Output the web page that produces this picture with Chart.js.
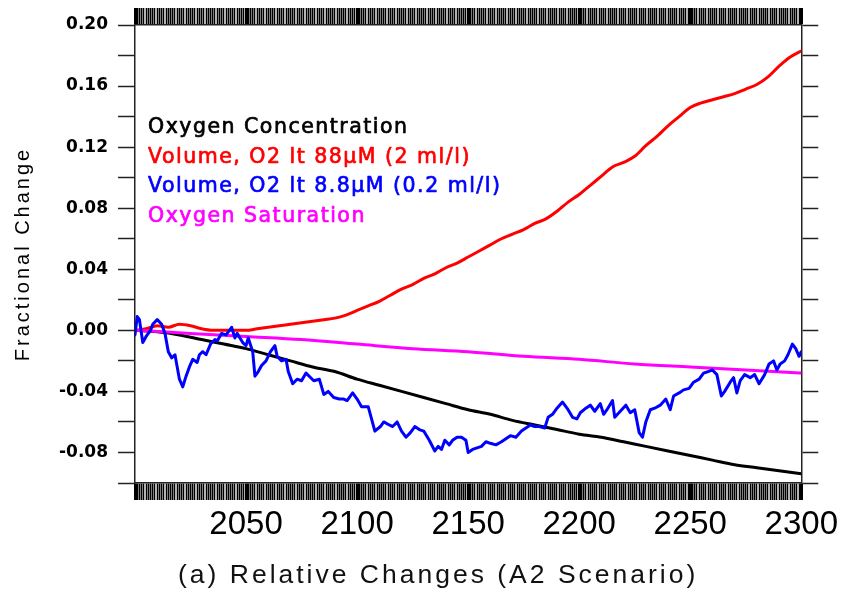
<!DOCTYPE html>
<html>
<head>
<meta charset="utf-8">
<style>
  html, body { margin: 0; padding: 0; background: #fff; }
  #wrap { width: 843px; height: 596px; position: relative; }
</style>
<script src="https://cdn.jsdelivr.net/npm/chart.js@4/dist/chart.umd.min.js"></script>
</head>
<body>
<div id="wrap"><canvas id="c"></canvas></div>
<script>
// Oxygen concentration (fractional change relative to 2000)
const concYears = [2000, 2010, 2020, 2030, 2040, 2050, 2060, 2070, 2080, 2090, 2100,
  2110, 2120, 2130, 2140, 2150, 2160, 2170, 2180, 2190, 2200,
  2210, 2220, 2230, 2240, 2250, 2260, 2270, 2280, 2290, 2300];
const concValues = [0.000, -0.001, -0.003, -0.006, -0.009, -0.012, -0.016, -0.020, -0.024, -0.027, -0.032,
  -0.036, -0.040, -0.044, -0.048, -0.052, -0.055, -0.059, -0.062, -0.065, -0.068,
  -0.070, -0.073, -0.076, -0.079, -0.082, -0.085, -0.088, -0.090, -0.092, -0.094];

// Volume with O2 below 88 uM (2 ml/l)
const vol88Years = [2000, 2005, 2010, 2015, 2020, 2025, 2030, 2035, 2040, 2045, 2050,
  2055, 2060, 2065, 2070, 2075, 2080, 2085, 2090, 2095, 2100,
  2105, 2110, 2115, 2120, 2125, 2130, 2135, 2140, 2145, 2150,
  2155, 2160, 2165, 2170, 2175, 2180, 2185, 2190, 2195, 2200,
  2205, 2210, 2215, 2220, 2225, 2230, 2235, 2240, 2245, 2250,
  2255, 2260, 2265, 2270, 2275, 2280, 2285, 2290, 2295, 2300];
const vol88Values = [0.000, 0.001, 0.003, 0.002, 0.004, 0.003, 0.001, 0.000, 0.000, 0.000, 0.000,
  0.001, 0.002, 0.003, 0.004, 0.005, 0.006, 0.007, 0.008, 0.010, 0.013,
  0.016, 0.019, 0.023, 0.027, 0.030, 0.034, 0.037, 0.041, 0.044, 0.048,
  0.052, 0.056, 0.060, 0.063, 0.066, 0.070, 0.073, 0.078, 0.084, 0.089,
  0.095, 0.101, 0.107, 0.110, 0.114, 0.121, 0.127, 0.134, 0.140, 0.146,
  0.149, 0.151, 0.153, 0.155, 0.158, 0.161, 0.166, 0.173, 0.179, 0.183];

// Volume with O2 below 8.8 uM (0.2 ml/l)
const vol8Years = [2000, 2001, 2002, 2003.5, 2005, 2007, 2008, 2010, 2012, 2013.5,
  2015, 2016.5, 2018, 2019, 2020, 2021.5, 2023, 2024.5, 2026, 2028,
  2029, 2030.5, 2032, 2034, 2036, 2037, 2039, 2041, 2043.5, 2045,
  2046, 2048.5, 2050, 2051, 2053, 2054, 2055.5, 2057, 2059, 2061,
  2063, 2064, 2066, 2068, 2069, 2071, 2073, 2075, 2077, 2080.5,
  2083, 2085, 2087, 2089.5, 2092, 2094, 2095.5, 2098, 2100, 2102,
  2105, 2106.5, 2108, 2110.5, 2112, 2114.5, 2116, 2118, 2120, 2122,
  2124, 2126, 2128, 2130, 2132.5, 2135, 2136.5, 2138, 2139.5, 2141.5,
  2143, 2145, 2147, 2149, 2150, 2152, 2154, 2156, 2158, 2160,
  2162.5, 2165, 2167, 2169, 2171.5, 2174, 2176, 2178, 2180, 2182,
  2184.5, 2186, 2188, 2190, 2192.5, 2195, 2197, 2199, 2200.5, 2203,
  2205, 2207, 2209.5, 2211, 2212.5, 2215, 2216, 2218.5, 2221, 2223,
  2225, 2227, 2228.5, 2230, 2232, 2234, 2236.5, 2239, 2241, 2242.5,
  2245, 2247, 2249.5, 2251.5, 2254, 2256, 2258, 2260, 2262, 2264,
  2265.5, 2268, 2269.5, 2271, 2272.5, 2274.5, 2277, 2279, 2281, 2283.5,
  2285.5, 2287.5, 2289, 2290.5, 2292.5, 2294, 2296, 2297.5, 2299, 2300];
const vol8Values = [-0.003, 0.009, 0.007, -0.008, -0.004, 0.000, 0.004, 0.007, 0.004, -0.002,
  -0.014, -0.018, -0.016, -0.024, -0.032, -0.037, -0.030, -0.024, -0.019, -0.021,
  -0.016, -0.014, -0.016, -0.009, -0.006, -0.007, -0.002, -0.003, 0.002, -0.005,
  -0.002, -0.008, -0.010, -0.005, -0.014, -0.030, -0.027, -0.023, -0.020, -0.014,
  -0.010, -0.017, -0.020, -0.019, -0.027, -0.035, -0.032, -0.033, -0.028, -0.033,
  -0.032, -0.042, -0.040, -0.044, -0.045, -0.045, -0.046, -0.041, -0.045, -0.050,
  -0.050, -0.058, -0.066, -0.063, -0.060, -0.062, -0.063, -0.060, -0.066, -0.070,
  -0.067, -0.063, -0.065, -0.066, -0.072, -0.079, -0.076, -0.078, -0.072, -0.075,
  -0.072, -0.070, -0.070, -0.072, -0.080, -0.078, -0.077, -0.076, -0.073, -0.074,
  -0.075, -0.073, -0.071, -0.069, -0.070, -0.066, -0.064, -0.062, -0.063, -0.063,
  -0.064, -0.057, -0.055, -0.051, -0.047, -0.052, -0.057, -0.058, -0.054, -0.051,
  -0.049, -0.053, -0.048, -0.055, -0.052, -0.046, -0.057, -0.053, -0.049, -0.054,
  -0.052, -0.067, -0.070, -0.060, -0.052, -0.051, -0.049, -0.045, -0.052, -0.043,
  -0.041, -0.039, -0.038, -0.034, -0.032, -0.028, -0.027, -0.026, -0.029, -0.043,
  -0.040, -0.034, -0.031, -0.041, -0.033, -0.029, -0.031, -0.029, -0.035, -0.029,
  -0.022, -0.020, -0.026, -0.022, -0.020, -0.016, -0.009, -0.012, -0.017, -0.014];

// Oxygen saturation
const satYears = [2000, 2025, 2050, 2075, 2100, 2125, 2150, 2175, 2200, 2225, 2250, 2275, 2300];
const satValues = [0.000, -0.002, -0.004, -0.006, -0.009, -0.012, -0.014, -0.017, -0.019, -0.022, -0.024, -0.026, -0.028];

// Text
const legendLabels = [
  'Oxygen Concentration',
  'Volume, O2 lt 88\u03bcM (2 ml/l)',
  'Volume, O2 lt 8.8\u03bcM (0.2 ml/l)',
  'Oxygen Saturation'
];
const legendColors = ['#000000', '#ff0000', '#0000ff', '#ff00ff'];
const yAxisTitle = 'Fractional Change';
const caption = '(a) Relative Changes (A2 Scenario)';
const xLabelYears = [2050, 2100, 2150, 2200, 2250, 2300];
const yLabelValues = ['0.20', '0.16', '0.12', '0.08', '0.04', '0.00', '-0.04', '-0.08'];

const pairs = (xs, ys) => xs.map((x, i) => ({ x: x, y: ys[i] }));

const textPlugin = {
  id: 'textPlugin',
  afterDraw(chart) {
    const { ctx, chartArea: a } = chart;
    ctx.save();
    // in-plot key, slightly emboldened with a thin outline
    ctx.font = '20.5px "DejaVu Sans"';
    ctx.letterSpacing = '1.5px';
    ctx.textAlign = 'left';
    ctx.textBaseline = 'alphabetic';
    ctx.lineWidth = 0.7;
    ctx.lineJoin = 'round';
    legendLabels.forEach((t, i) => {
      const x = a.left + 13, y = a.top + 108 + i * 29.7;
      ctx.fillStyle = legendColors[i];
      ctx.strokeStyle = legendColors[i];
      ctx.fillText(t, x, y);
      ctx.strokeText(t, x, y);
    });
    // caption under the x axis
    ctx.font = '26.5px "Liberation Sans"';
    ctx.letterSpacing = '3px';
    ctx.fillStyle = '#111';
    ctx.fillText(caption, a.left + 43, 583);
    // rotated y-axis title
    ctx.font = '20px "Liberation Sans"';
    ctx.letterSpacing = '3px';
    ctx.fillStyle = '#000';
    ctx.translate(23, (a.top + a.bottom) / 2);
    ctx.rotate(-Math.PI / 2);
    ctx.textAlign = 'center';
    ctx.textBaseline = 'middle';
    ctx.fillText(yAxisTitle, 0, 0);
    ctx.restore();
  }
};

const yearTickWidth = (c) => (c.tick && Math.round(c.tick.value) % 50 === 0) ? 3 : 1.6;

const xAxisBase = {
  type: 'linear',
  min: 2000,
  max: 2300,
  grid: { drawOnChartArea: false, drawTicks: true, tickLength: 17, tickColor: '#000', tickWidth: yearTickWidth },
  border: { display: true, color: '#222', width: 1.5 }
};
const yAxisBase = {
  type: 'linear',
  min: -0.10,
  max: 0.20,
  grid: { drawOnChartArea: false, drawTicks: true, tickLength: 17, tickColor: '#222', tickWidth: 1.5 },
  border: { display: true, color: '#222', width: 1.5 }
};

new Chart(document.getElementById('c'), {
  type: 'line',
  data: {
    datasets: [
      { label: legendLabels[2], data: pairs(vol8Years, vol8Values), borderColor: '#0000ff', borderWidth: 3, tension: 0 },
      { label: legendLabels[3], data: pairs(satYears, satValues), borderColor: '#ff00ff', borderWidth: 3, cubicInterpolationMode: 'monotone' },
      { label: legendLabels[1], data: pairs(vol88Years, vol88Values), borderColor: '#ff0000', borderWidth: 3, cubicInterpolationMode: 'monotone' },
      { label: legendLabels[0], data: pairs(concYears, concValues), borderColor: '#000000', borderWidth: 3, cubicInterpolationMode: 'monotone' }
    ]
  },
  options: {
    responsive: true,
    maintainAspectRatio: false,
    animation: false,
    events: [],
    layout: { padding: 0 },
    elements: { point: { radius: 0 }, line: { borderCapStyle: 'round', borderJoinStyle: 'round' } },
    plugins: { legend: { display: false }, tooltip: { enabled: false } },
    scales: {
      x: Object.assign({}, xAxisBase, {
        position: 'bottom',
        afterFit: (s) => { s.height = 113; },
        ticks: {
          stepSize: 1, autoSkip: false, maxRotation: 0, minRotation: 0, padding: 5,
          color: '#000', font: { family: 'Liberation Sans', size: 33 },
          callback: (v) => xLabelYears.includes(Math.round(v)) ? String(Math.round(v)) : ''
        }
      }),
      x2: Object.assign({}, xAxisBase, {
        position: 'top',
        afterFit: (s) => { s.height = 25; },
        ticks: { stepSize: 1, autoSkip: false, maxRotation: 0, minRotation: 0, padding: 0, font: { size: 1 }, callback: () => '' }
      }),
      y: Object.assign({}, yAxisBase, {
        position: 'left',
        afterFit: (s) => { s.width = 135; },
        ticks: {
          stepSize: 0.02, autoSkip: false, padding: 10, color: '#000',
          font: { family: 'DejaVu Sans', size: 17, weight: 'bold' },
          callback: (v) => {
            const s = (Math.round(v * 100) / 100).toFixed(2);
            return yLabelValues.includes(s) ? s : '';
          }
        }
      }),
      y2: Object.assign({}, yAxisBase, {
        position: 'right',
        afterFit: (s) => { s.width = 38; },
        ticks: { stepSize: 0.02, autoSkip: false, padding: 0, font: { size: 1 }, callback: () => '' }
      })
    }
  },
  plugins: [textPlugin]
});
</script>
</body>
</html>
